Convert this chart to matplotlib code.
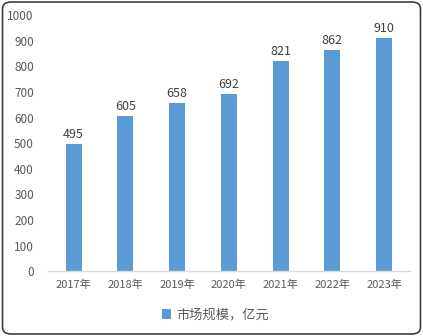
import matplotlib
matplotlib.use("Agg")
import matplotlib.pyplot as plt
from matplotlib.patches import FancyBboxPatch

plt.rcParams['font.family'] = ['Noto Sans CJK SC', 'DejaVu Sans']

categories = ["2017年", "2018年", "2019年", "2020年", "2021年", "2022年", "2023年"]
values = [495, 605, 658, 692, 821, 862, 910]
series_name = "市场规模，亿元"
yticks = list(range(0, 1001, 100))

bar_color = "#5B9BD5"
text_color = "#595959"

fig = plt.figure(figsize=(4.23, 3.36), dpi=100)
ax = fig.add_axes([0.113, 0.193, 0.856, 0.762])

x = list(range(len(categories)))
bars = ax.bar(x, values, width=0.31, color=bar_color, label=series_name, zorder=2)
for xi, v in zip(x, values):
    ax.text(xi, v + 12, str(v), ha='center', va='bottom', fontsize=9, color="#404040")

ax.set_xlim(-0.5, len(categories) - 0.5)
ax.set_ylim(0, 1000)
ax.set_yticks(yticks)
ax.set_yticklabels([str(t) for t in yticks], fontsize=8.5, color=text_color)
ax.set_xticks(x)
ax.set_xticklabels(categories, fontsize=8, color=text_color)
ax.tick_params(axis='both', length=0)
ax.tick_params(axis='y', pad=10)
ax.tick_params(axis='x', pad=6)
for s in ['top', 'right', 'left']:
    ax.spines[s].set_visible(False)
ax.spines['bottom'].set_color("#D9D9D9")
ax.spines['bottom'].set_linewidth(1)

leg = fig.legend(handles=[bars], labels=[series_name], loc='center', bbox_to_anchor=(0.51, 0.062),
                 frameon=False, fontsize=9.5, handlelength=0.7, handleheight=0.7, handletextpad=0.4)
for t in leg.get_texts():
    t.set_color(text_color)

border = FancyBboxPatch((0.006, 0.006), 0.988, 0.988, boxstyle="round,pad=0,rounding_size=0.02",
                        transform=fig.transFigure, fill=False, edgecolor="#404040", linewidth=1.2)
fig.patches.append(border)

fig.savefig("out.png", dpi=100)
